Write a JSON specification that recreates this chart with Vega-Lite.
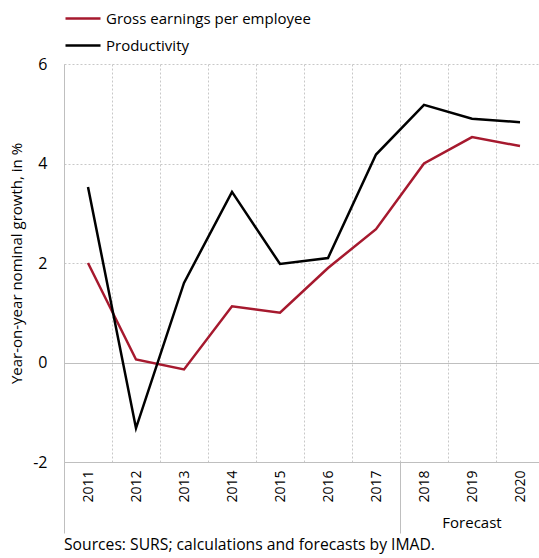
{
  "$schema": "https://vega.github.io/schema/vega-lite/v6.json",
  "width": 480,
  "height": 398,
  "autosize": {"type": "none"},
  "padding": {"left": 64, "top": 64, "right": -5, "bottom": 96},
  "background": "white",
  "config": {"font": "Open Sans", "view": {"stroke": null}},
  "title": {"text": "Sources: SURS; calculations and forecasts by IMAD.", "orient": "bottom", "anchor": "start", "frame": "group", "fontSize": 15.7, "fontWeight": "normal", "offset": 4, "color": "#000000"},
  "datasets": {
    "lines": [
      {"year": "2011", "series": "Gross earnings per employee", "value": 2.0},
      {"year": "2012", "series": "Gross earnings per employee", "value": 0.06},
      {"year": "2013", "series": "Gross earnings per employee", "value": -0.14},
      {"year": "2014", "series": "Gross earnings per employee", "value": 1.13},
      {"year": "2015", "series": "Gross earnings per employee", "value": 1.0},
      {"year": "2016", "series": "Gross earnings per employee", "value": 1.9},
      {"year": "2017", "series": "Gross earnings per employee", "value": 2.68},
      {"year": "2018", "series": "Gross earnings per employee", "value": 4.0},
      {"year": "2019", "series": "Gross earnings per employee", "value": 4.53},
      {"year": "2020", "series": "Gross earnings per employee", "value": 4.35},
      {"year": "2011", "series": "Productivity", "value": 3.53},
      {"year": "2012", "series": "Productivity", "value": -1.32},
      {"year": "2013", "series": "Productivity", "value": 1.6},
      {"year": "2014", "series": "Productivity", "value": 3.43},
      {"year": "2015", "series": "Productivity", "value": 1.98},
      {"year": "2016", "series": "Productivity", "value": 2.1},
      {"year": "2017", "series": "Productivity", "value": 4.18},
      {"year": "2018", "series": "Productivity", "value": 5.18},
      {"year": "2019", "series": "Productivity", "value": 4.9},
      {"year": "2020", "series": "Productivity", "value": 4.83}
    ],
    "notes": [
      {"year": "2019", "label": "Forecast", "pos": -3.23}
    ]
  },
  "encoding": {
    "x": {
      "field": "year", "type": "nominal",
      "scale": {"type": "band", "paddingInner": 0, "paddingOuter": 0,
                "domain": ["2011","2012","2013","2014","2015","2016","2017","2018","2019","2020"]},
      "axis": {
        "title": null, "labelAngle": -90, "labelFontSize": 14, "labelColor": "#000000",
        "tickBand": "extent", "grid": true, "gridDash": [2, 2], "gridColor": "#c8c8c8", "gridWidth": 1,
        "ticks": true, "tickSize": 71, "tickColor": "#bfbfbf", "tickWidth": 1,
        "tickOpacity": {"condition": {"test": "datum.value === '2017' || datum.extra", "value": 1}, "value": 0},
        "labelPadding": -63, "domainColor": "#bfbfbf", "domainWidth": 1
      }
    }
  },
  "layer": [
    {
      "data": {"name": "lines"},
      "mark": {"type": "line", "strokeWidth": 2.5},
      "encoding": {
        "x": {"field": "year", "type": "nominal", "bandPosition": 0.5},
        "y": {
          "field": "value", "type": "quantitative",
          "scale": {"domain": [-2, 6], "nice": false, "zero": false},
          "axis": {
            "title": "Year-on-year nominal growth, in %", "values": [-2, 0, 2, 4, 6],
            "labelExpr": "replace(datum.label, '\u2212', '-')",
            "grid": true,
            "gridColor": {"condition": {"test": "datum.value <= 0", "value": "#bfbfbf"}, "value": "#c8c8c8"},
            "gridDash": {"condition": {"test": "datum.value <= 0", "value": []}, "value": [2, 2]},
            "ticks": false, "domain": true, "domainColor": "#bfbfbf",
            "labelFontSize": 16, "labelPadding": 17, "labelColor": "#000000",
            "titleFontSize": 15, "titleFontWeight": "normal", "titlePadding": 8, "titleColor": "#000000"
          }
        },
        "color": {
          "field": "series", "type": "nominal",
          "scale": {"domain": ["Gross earnings per employee", "Productivity"], "range": ["#a6192e", "#000000"]},
          "legend": {
            "orient": "none", "legendX": 0, "legendY": -64.5, "title": null,
            "symbolType": "stroke", "symbolSize": 1225, "symbolStrokeWidth": 2.5,
            "labelFontSize": 15, "labelOffset": 4, "rowPadding": -7, "labelColor": "#000000", "padding": 0, "labelLimit": 400
          }
        }
      }
    },
    {
      "data": {"name": "notes"},
      "mark": {"type": "text", "fontSize": 15, "baseline": "middle", "align": "center", "clip": false, "color": "#000000"},
      "encoding": {
        "x": {"field": "year", "type": "nominal", "bandPosition": 0.5},
        "y": {"field": "pos", "type": "quantitative"},
        "text": {"field": "label"}
      }
    }
  ]
}
